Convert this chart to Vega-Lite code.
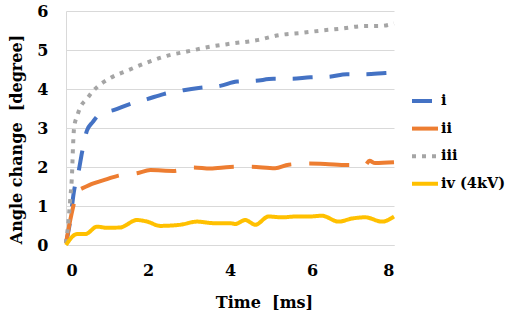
{
  "$schema": "https://vega.github.io/schema/vega-lite/v6.json",
  "width": 328,
  "height": 234,
  "autosize": "none",
  "padding": {"left": 66, "top": 11, "right": 116, "bottom": 70},
  "background": "white",
  "config": {"view": {"stroke": null}, "font": "DejaVu Serif"},
  "data": {"values": [
    {"s":"i","t":0,"v":0.05},{"s":"i","t":0.1,"v":0.6},{"s":"i","t":0.19,"v":1.35},{"s":"i","t":0.31,"v":1.9},{"s":"i","t":0.39,"v":2.37},{"s":"i","t":0.51,"v":2.93},{"s":"i","t":0.65,"v":3.15},{"s":"i","t":0.84,"v":3.37},{"s":"i","t":1.16,"v":3.46},{"s":"i","t":1.57,"v":3.62},{"s":"i","t":1.98,"v":3.74},{"s":"i","t":2.38,"v":3.87},{"s":"i","t":2.87,"v":3.97},{"s":"i","t":3.28,"v":4.03},{"s":"i","t":3.76,"v":4.08},{"s":"i","t":4.17,"v":4.19},{"s":"i","t":4.62,"v":4.21},{"s":"i","t":5.06,"v":4.26},{"s":"i","t":5.51,"v":4.26},{"s":"i","t":5.96,"v":4.3},{"s":"i","t":6.4,"v":4.31},{"s":"i","t":6.85,"v":4.38},{"s":"i","t":7.3,"v":4.38},{"s":"i","t":7.79,"v":4.41},{"s":"i","t":8,"v":4.42},
    {"s":"ii","t":0,"v":0.05},{"s":"ii","t":0.1,"v":0.62},{"s":"ii","t":0.19,"v":1.05},{"s":"ii","t":0.27,"v":1.39},{"s":"ii","t":0.35,"v":1.43},{"s":"ii","t":0.67,"v":1.58},{"s":"ii","t":1.0,"v":1.69},{"s":"ii","t":1.28,"v":1.78},{"s":"ii","t":1.73,"v":1.84},{"s":"ii","t":2.06,"v":1.92},{"s":"ii","t":2.62,"v":1.9},{"s":"ii","t":3.11,"v":1.99},{"s":"ii","t":3.52,"v":1.96},{"s":"ii","t":4.0,"v":2.0},{"s":"ii","t":4.49,"v":2.01},{"s":"ii","t":5.1,"v":1.97},{"s":"ii","t":5.43,"v":2.06},{"s":"ii","t":5.92,"v":2.09},{"s":"ii","t":6.32,"v":2.08},{"s":"ii","t":6.85,"v":2.05},{"s":"ii","t":7.3,"v":2.05},{"s":"ii","t":7.4,"v":2.16},{"s":"ii","t":7.54,"v":2.1},{"s":"ii","t":8,"v":2.12},
    {"s":"iii","t":0,"v":0.05},{"s":"iii","t":0.06,"v":0.62},{"s":"iii","t":0.1,"v":1.13},{"s":"iii","t":0.15,"v":1.9},{"s":"iii","t":0.17,"v":2.5},{"s":"iii","t":0.2,"v":3.03},{"s":"iii","t":0.27,"v":3.3},{"s":"iii","t":0.35,"v":3.53},{"s":"iii","t":0.51,"v":3.75},{"s":"iii","t":0.67,"v":3.96},{"s":"iii","t":1.08,"v":4.28},{"s":"iii","t":1.49,"v":4.47},{"s":"iii","t":1.98,"v":4.68},{"s":"iii","t":2.46,"v":4.85},{"s":"iii","t":2.95,"v":4.96},{"s":"iii","t":3.44,"v":5.07},{"s":"iii","t":3.93,"v":5.15},{"s":"iii","t":4.7,"v":5.26},{"s":"iii","t":5.19,"v":5.38},{"s":"iii","t":5.76,"v":5.44},{"s":"iii","t":6.24,"v":5.5},{"s":"iii","t":6.73,"v":5.55},{"s":"iii","t":7.2,"v":5.61},{"s":"iii","t":7.7,"v":5.62},{"s":"iii","t":8,"v":5.68},
    {"s":"iv (4kV)","t":0,"v":0},{"s":"iv (4kV)","t":0.27,"v":0.28},{"s":"iv (4kV)","t":0.47,"v":0.28},{"s":"iv (4kV)","t":0.76,"v":0.47},{"s":"iv (4kV)","t":1.0,"v":0.44},{"s":"iv (4kV)","t":1.32,"v":0.45},{"s":"iv (4kV)","t":1.73,"v":0.64},{"s":"iv (4kV)","t":1.98,"v":0.6},{"s":"iv (4kV)","t":2.3,"v":0.49},{"s":"iv (4kV)","t":2.79,"v":0.52},{"s":"iv (4kV)","t":3.2,"v":0.6},{"s":"iv (4kV)","t":3.6,"v":0.56},{"s":"iv (4kV)","t":4.0,"v":0.56},{"s":"iv (4kV)","t":4.13,"v":0.54},{"s":"iv (4kV)","t":4.37,"v":0.64},{"s":"iv (4kV)","t":4.62,"v":0.52},{"s":"iv (4kV)","t":4.94,"v":0.73},{"s":"iv (4kV)","t":5.27,"v":0.71},{"s":"iv (4kV)","t":5.59,"v":0.73},{"s":"iv (4kV)","t":5.92,"v":0.73},{"s":"iv (4kV)","t":6.24,"v":0.75},{"s":"iv (4kV)","t":6.65,"v":0.6},{"s":"iv (4kV)","t":6.98,"v":0.68},{"s":"iv (4kV)","t":7.3,"v":0.71},{"s":"iv (4kV)","t":7.71,"v":0.6},{"s":"iv (4kV)","t":8,"v":0.73}
  ]},
  "mark": {"type": "line", "strokeWidth": 4, "interpolate": "monotone", "strokeCap": "butt"},
  "encoding": {
    "x": {"field": "t", "type": "quantitative", "scale": {"domain": [0, 8], "nice": false},
      "axis": {"values": [0, 2, 4, 6, 8], "title": "Time\u00a0 [ms]", "grid": false, "ticks": false,
        "domainColor": "#d9d9d9", "domainWidth": 1,
        "labelFont": "DejaVu Serif", "labelFontWeight": "bold", "labelFontSize": 16, "labelColor": "#000", "labelPadding": 17,
        "titleFont": "DejaVu Serif", "titleFontWeight": "bold", "titleFontSize": 16, "titleColor": "#000",
        "titleX": 198, "titleY": 62, "titleBaseline": "alphabetic", "titleAlign": "center"}},
    "y": {"field": "v", "type": "quantitative", "scale": {"domain": [0, 6], "nice": false},
      "axis": {"values": [0, 1, 2, 3, 4, 5, 6], "title": "Angle change\u00a0 [degree]", "grid": true, "gridColor": "#d9d9d9", "gridWidth": 1,
        "ticks": false, "domainColor": "#d9d9d9", "domainWidth": 1,
        "labelFont": "DejaVu Serif", "labelFontWeight": "bold", "labelFontSize": 16, "labelColor": "#000", "labelPadding": 18,
        "titleFont": "DejaVu Serif", "titleFontWeight": "bold", "titleFontSize": 16, "titleColor": "#000",
        "titleX": -45, "titleY": 128, "titleBaseline": "alphabetic", "titleAngle": -90, "titleAlign": "center"}},
    "color": {"field": "s", "type": "nominal",
      "scale": {"domain": ["i", "ii", "iii", "iv (4kV)"], "range": ["#4472C4", "#ED7D31", "#A5A5A5", "#FFC000"]},
      "legend": {"title": null, "orient": "none", "legendX": 344, "legendY": 75, "padding": 0,
        "symbolType": "stroke", "symbolSize": 676, "symbolStrokeWidth": 4,
        "labelFont": "DejaVu Serif", "labelFontWeight": "bold", "labelFontSize": 14.5, "labelColor": "#000", "labelOffset": 1, "rowPadding": 4.6}},
    "strokeDash": {"field": "s", "type": "nominal",
      "scale": {"domain": ["i", "ii", "iii", "iv (4kV)"], "range": [[20, 17], [40, 18], [4, 6], [1, 0]]}}
  }
}
